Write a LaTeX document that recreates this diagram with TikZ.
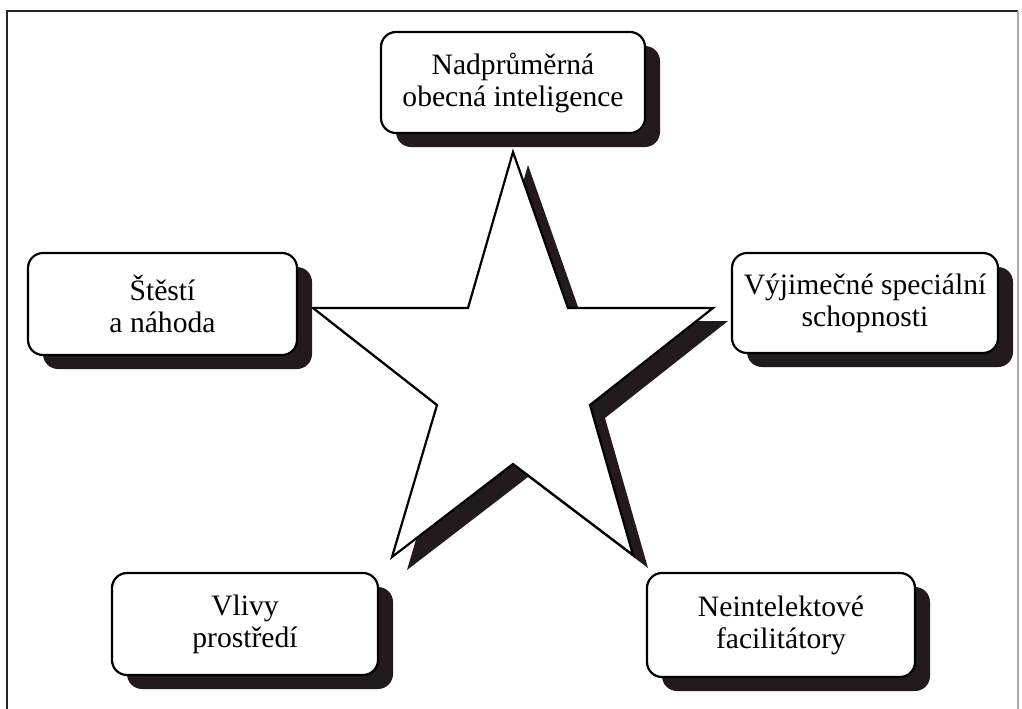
\documentclass[tikz,border=0pt]{standalone}
\usepackage{fontspec}
\setmainfont{Liberation Serif}
\usetikzlibrary{shadows}
\definecolor{shadowc}{RGB}{35,26,29}
\tikzset{
  boxst/.style={draw=black, line width=1.1pt, rounded corners=7.5pt, fill=white,
    align=center, inner sep=0pt,
    font=\fontsize{14.8}{16}\selectfont,
    general shadow={fill=shadowc, shadow xshift=7.5pt, shadow yshift=-7pt}},
  framest/.style={line width=1pt, draw=black!85},
  starst/.style={draw=black, line width=1.1pt, fill=white, line join=miter},
  starshadow/.style={fill=shadowc, draw=none}
}
\begin{document}
\begin{tikzpicture}[x=0.5pt, y=-0.5pt]
\useasboundingbox (0,0) rectangle (1022,708);
% frame
\draw[framest] (7,712) -- (7,11) -- (1018,11);
\draw[line width=0.6pt, draw=black!35] (1018,11) -- (1018,712);
% star shadow
\fill[starshadow, shift={(15,13)}] (513,152) -- (568,308) -- (713,308) -- (590,405) -- (633,555)
  -- (513,464) -- (392,557) -- (437,405) -- (313,308) -- (468,308) -- cycle;
% star
\draw[starst] (513,152) -- (568,308) -- (713,308) -- (590,405) -- (633,555)
  -- (513,464) -- (392,557) -- (437,405) -- (313,308) -- (468,308) -- cycle;
% boxes
\node[boxst, minimum width=132pt, minimum height=50.5pt] (top) at (513,82.5) {Nadprůměrná\\obecná inteligence};
\node[boxst, minimum width=134.5pt, minimum height=51pt] (left) at (162.5,304) {Štěstí\\a náhoda};
\node[boxst, minimum width=133pt, minimum height=50pt] (right) at (865,303) {Výjimečné speciální\\schopnosti};
\node[boxst, minimum width=133pt, minimum height=51pt] (bl) at (245,624) {Vlivy\\prostředí};
\node[boxst, minimum width=134pt, minimum height=52pt] (br) at (781,625) {Neintelektové\\facilitátory};
\end{tikzpicture}
\end{document}
